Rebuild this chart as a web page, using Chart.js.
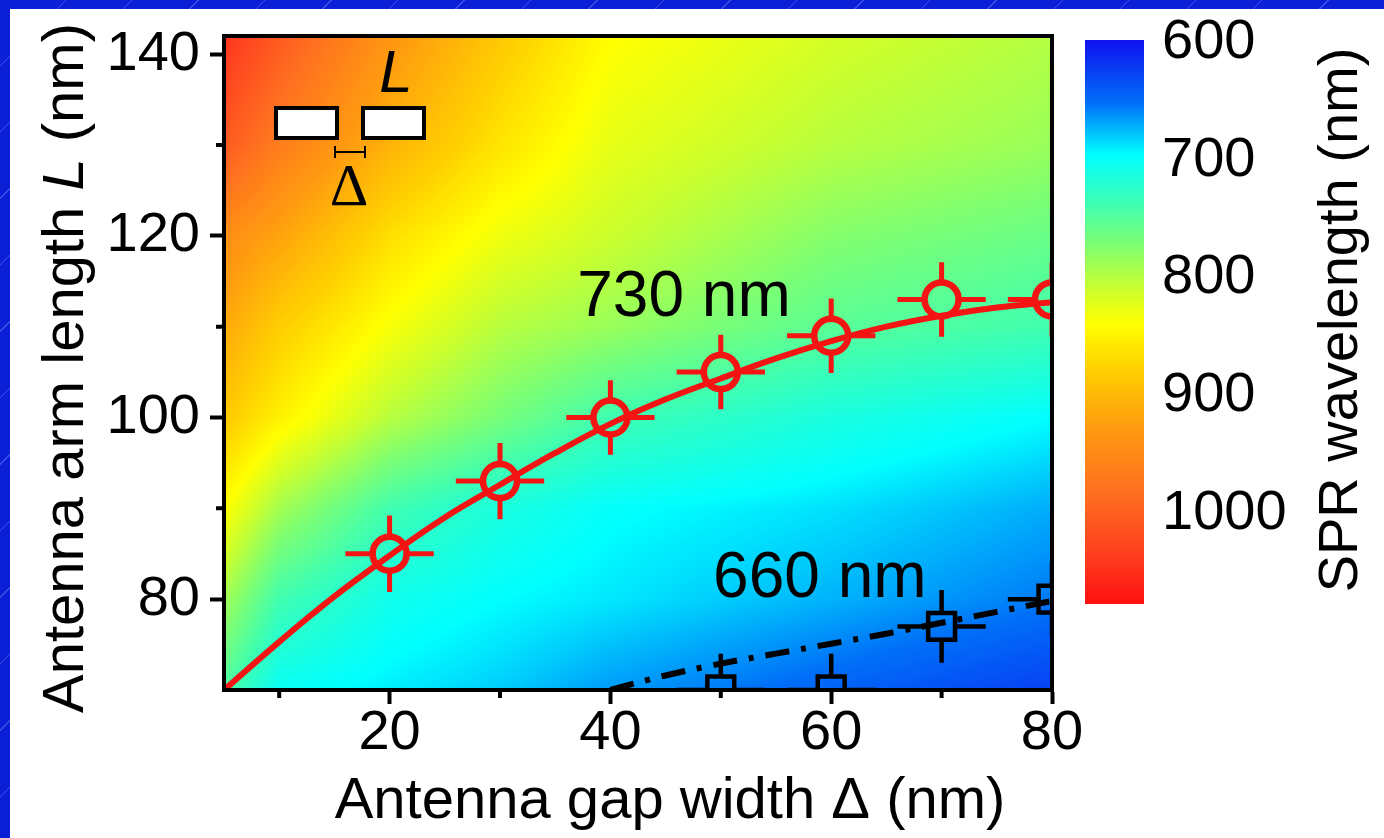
<!DOCTYPE html>
<html>
<head>
<meta charset="utf-8">
<script src="https://cdn.jsdelivr.net/npm/chart.js@4.4.1/dist/chart.umd.min.js"></script>
<style>
  html, body { margin: 0; padding: 0; }
  body {
    width: 1384px; height: 838px; overflow: hidden; position: relative;
    background: repeating-linear-gradient(135deg, #0a1fd6 0 46px, #3a52e6 46px 47px);
  }
  #panel { position: absolute; left: 10px; top: 9px; right: 0; bottom: 0; background: #fff; }
  #main { position: absolute; left: 0; top: 0; }
  #bar { position: absolute; left: 1080px; top: 0; }
</style>
</head>
<body>
<div id="panel"></div>
<canvas id="main" width="1384" height="838"></canvas>
<canvas id="bar" width="304" height="640"></canvas>
<script>
// 730 nm resonance: measured points (red circles) and the fit line
const gap730 = [20, 30, 40, 50, 60, 70, 80];
const len730 = [85, 93, 100, 105, 109, 113, 113];
const gapErr730 = [4, 4, 4, 4, 4, 4, 4];
const lenErr730 = [4.2, 4.2, 4.1, 4.1, 4.1, 4.1, 4.1];
const fitGap730 = [5, 10, 15, 20, 25, 30, 35, 40, 45, 50, 55, 60, 65, 70, 75, 80];
const fitLen730 = [70, 75.3, 80.3, 84.8, 89, 92.6, 96.1, 99.3, 102, 104.3, 106.5, 108.4, 110, 111.2, 112.1, 112.7];

// 660 nm resonance: measured points (black squares) and the fit line
const gap660 = [50, 60, 70, 80];
const len660 = [70, 70, 77, 80];
const gapErr660 = [4, 4, 4, 4];
const lenErr660 = [4, 4, 4, 4];
const fitGap660 = [40, 45, 50, 55, 60, 65, 70, 75, 80];
const fitLen660 = [70, 71.6, 72.9, 74, 75.1, 76.2, 77.4, 78.6, 79.8];

// SPR wavelength map (nm), rows follow heatLen, columns follow heatGap
const heatGap = [5, 10, 20, 30, 40, 60, 80];
const heatLen = [70, 80, 90, 100, 110, 120, 130, 142];
const heatSpr = [
  [745, 700, 690, 680, 665, 645, 625],
  [790, 738, 705, 695, 688, 672, 655],
  [840, 790, 738, 712, 697, 686, 670],
  [885, 850, 800, 768, 737, 712, 695],
  [915, 880, 835, 800, 785, 752, 738],
  [945, 920, 865, 830, 810, 775, 760],
  [1005, 965, 905, 860, 825, 800, 785],
  [1045, 1005, 935, 885, 840, 815, 798]
];

// colour scale of the colour bar
const cmapNm = [598, 652, 695, 738, 773, 808, 839, 877, 929, 981, 1033, 1077];
const cmapColor = ['#1010f0', '#0070f8', '#00ffff', '#40ffb0', '#80ff70', '#c8ff30',
  '#ffff00', '#ffd000', '#ff9a10', '#ff7020', '#ff4020', '#ff1010'];
const colorbarRange = [598, 1077];

// axis minor ticks and text labels
const minorGap = [10, 30, 50, 70];
const minorLen = [90, 110, 130];
const noteText = ['730 nm', '660 nm'];
const noteGap = [37, 49.3];
const noteLen = [111.2, 80.2];

const FONT = "'Liberation Sans', Arial, sans-serif";

function hexRgb(h) {
  return [parseInt(h.slice(1, 3), 16), parseInt(h.slice(3, 5), 16), parseInt(h.slice(5, 7), 16)];
}
const cmapRgb = cmapColor.map(hexRgb);

function sprColor(w) {
  if (w <= cmapNm[0]) return cmapRgb[0];
  for (let i = 0; i < cmapNm.length - 1; i++) {
    if (w <= cmapNm[i + 1]) {
      const t = (w - cmapNm[i]) / (cmapNm[i + 1] - cmapNm[i]);
      const a = cmapRgb[i], b = cmapRgb[i + 1];
      return [a[0] + (b[0] - a[0]) * t, a[1] + (b[1] - a[1]) * t, a[2] + (b[2] - a[2]) * t];
    }
  }
  return cmapRgb[cmapRgb.length - 1];
}

function locate(arr, v) {
  let i = 0;
  while (i < arr.length - 2 && v > arr[i + 1]) i++;
  const t = (v - arr[i]) / (arr[i + 1] - arr[i]);
  return [i, Math.max(0, Math.min(1, t))];
}

function sprAt(g, l) {
  const [i, tx] = locate(heatGap, g);
  const [j, ty] = locate(heatLen, l);
  const r0 = heatSpr[j], r1 = heatSpr[j + 1];
  const a = r0[i] * (1 - tx) + r0[i + 1] * tx;
  const b = r1[i] * (1 - tx) + r1[i + 1] * tx;
  return a * (1 - ty) + b * ty;
}

const heatmap = {
  id: 'heatmap',
  beforeDatasetsDraw(chart) {
    const {ctx, chartArea: a, scales: {x, y}} = chart;
    const w = Math.round(a.width), h = Math.round(a.height);
    if (!this.img || this.img.width !== w || this.img.height !== h) {
      const off = document.createElement('canvas');
      off.width = w; off.height = h;
      const octx = off.getContext('2d');
      const im = octx.createImageData(w, h);
      for (let j = 0; j < h; j++) {
        const l = y.getValueForPixel(a.top + j + 0.5);
        for (let i = 0; i < w; i++) {
          const g = x.getValueForPixel(a.left + i + 0.5);
          const c = sprColor(sprAt(g, l));
          const k = (j * w + i) * 4;
          im.data[k] = c[0]; im.data[k + 1] = c[1]; im.data[k + 2] = c[2]; im.data[k + 3] = 255;
        }
      }
      octx.putImageData(im, 0, 0);
      this.img = off;
    }
    ctx.drawImage(this.img, a.left, a.top);
  }
};

const errorBars = {
  id: 'errorBars',
  afterDatasetsDraw(chart) {
    const {ctx, chartArea: a, scales: {x, y}} = chart;
    ctx.save();
    ctx.beginPath();
    ctx.rect(a.left, a.top, a.width, a.height);
    ctx.clip();
    chart.data.datasets.forEach(ds => {
      if (!ds.errX) return;
      ctx.strokeStyle = ds.borderColor;
      ctx.lineWidth = ds.errWidth;
      ds.data.forEach((p, k) => {
        const px = x.getPixelForValue(p.x), py = y.getPixelForValue(p.y);
        const xl = x.getPixelForValue(p.x - ds.errX[k]), xr = x.getPixelForValue(p.x + ds.errX[k]);
        const yb = y.getPixelForValue(p.y - ds.errY[k]), yt = y.getPixelForValue(p.y + ds.errY[k]);
        const r = ds.errGap;
        ctx.beginPath();
        ctx.moveTo(xl, py); ctx.lineTo(px - r, py);
        ctx.moveTo(px + r, py); ctx.lineTo(xr, py);
        ctx.moveTo(px, yt); ctx.lineTo(px, py - r);
        ctx.moveTo(px, py + r); ctx.lineTo(px, yb);
        ctx.stroke();
      });
    });
    ctx.restore();
  }
};

const frameAndNotes = {
  id: 'frameAndNotes',
  afterDatasetsDraw(chart) {
    const {ctx, chartArea: a, scales: {x, y}} = chart;
    ctx.save();
    // box around the map
    ctx.strokeStyle = '#000';
    ctx.lineWidth = 4;
    ctx.strokeRect(a.left, a.top, a.width, a.height);
    // minor ticks
    ctx.beginPath();
    minorGap.forEach(v => {
      const px = x.getPixelForValue(v);
      ctx.moveTo(px, a.bottom); ctx.lineTo(px, a.bottom + 8);
    });
    minorLen.forEach(v => {
      const py = y.getPixelForValue(v);
      ctx.moveTo(a.left, py); ctx.lineTo(a.left - 8, py);
    });
    ctx.stroke();

    // resonance labels
    ctx.fillStyle = '#000';
    ctx.font = '64px ' + FONT;
    ctx.textAlign = 'left';
    ctx.textBaseline = 'alphabetic';
    noteText.forEach((t, i) => {
      ctx.fillText(t, x.getPixelForValue(noteGap[i]), y.getPixelForValue(noteLen[i]));
    });

    // antenna sketch in the upper left corner
    const ox = a.left, oy = a.top;
    ctx.fillStyle = '#fff';
    ctx.lineWidth = 4;
    ctx.fillRect(ox + 52, oy + 72, 61, 30);
    ctx.strokeRect(ox + 52, oy + 72, 61, 30);
    ctx.fillRect(ox + 139, oy + 72, 61, 30);
    ctx.strokeRect(ox + 139, oy + 72, 61, 30);
    ctx.lineWidth = 2;
    ctx.beginPath();
    ctx.moveTo(ox + 111, oy + 116); ctx.lineTo(ox + 141, oy + 116);
    ctx.moveTo(ox + 111, oy + 110); ctx.lineTo(ox + 111, oy + 122);
    ctx.moveTo(ox + 141, oy + 110); ctx.lineTo(ox + 141, oy + 122);
    ctx.stroke();
    ctx.fillStyle = '#000';
    ctx.textAlign = 'center';
    ctx.font = "60px 'Liberation Serif', 'Times New Roman', serif";
    ctx.fillText('\u0394', ox + 125, oy + 169);
    ctx.font = 'italic 60px ' + FONT;
    ctx.fillText('L', ox + 172, oy + 56);
    ctx.restore();
  }
};

function drawParts(ctx, parts, cx, cy, rot, size) {
  ctx.save();
  ctx.translate(cx, cy);
  ctx.rotate(rot);
  ctx.fillStyle = '#000';
  ctx.textAlign = 'left';
  ctx.textBaseline = 'alphabetic';
  const fonts = parts.map(p => (p.italic ? 'italic ' : '') + size + 'px ' + FONT);
  let total = 0;
  const widths = parts.map((p, i) => { ctx.font = fonts[i]; const w = ctx.measureText(p.text).width; total += w; return w; });
  let pos = -total / 2;
  parts.forEach((p, i) => { ctx.font = fonts[i]; ctx.fillText(p.text, pos, 0); pos += widths[i]; });
  ctx.restore();
}

const axisTitles = {
  id: 'axisTitles',
  afterDraw(chart) {
    const ctx = chart.ctx;
    drawParts(ctx, [{text: 'Antenna gap width \u0394 (nm)'}], 670, 818, 0, 58);
    drawParts(ctx, [{text: 'Antenna arm length '}, {text: 'L', italic: true}, {text: ' (nm)'}], 83, 368, -Math.PI / 2, 58);
  }
};

const tickFont = {family: FONT, size: 56, lineHeight: 1};

new Chart(document.getElementById('main'), {
  type: 'scatter',
  data: {
    datasets: [
      {
        type: 'line',
        data: fitGap730.map((g, i) => ({x: g, y: fitLen730[i]})),
        borderColor: '#f41414',
        borderWidth: 6,
        pointRadius: 0,
        tension: 0.4,
        fill: false,
        clip: 0
      },
      {
        type: 'line',
        data: fitGap660.map((g, i) => ({x: g, y: fitLen660[i]})),
        borderColor: '#000',
        borderWidth: 6,
        borderDash: [24, 12, 5, 12],
        pointRadius: 0,
        tension: 0.4,
        fill: false,
        clip: 0
      },
      {
        data: gap730.map((g, i) => ({x: g, y: len730[i]})),
        pointStyle: 'circle',
        pointRadius: 17,
        borderWidth: 6.5,
        borderColor: '#f41414',
        backgroundColor: 'rgba(0,0,0,0)',
        errX: gapErr730, errY: lenErr730, errGap: 17, errWidth: 5,
        clip: 0
      },
      {
        data: gap660.map((g, i) => ({x: g, y: len660[i]})),
        pointStyle: 'rect',
        pointRadius: 19,
        borderWidth: 4.5,
        borderColor: '#000',
        backgroundColor: 'rgba(0,0,0,0)',
        errX: gapErr660, errY: lenErr660, errGap: 13, errWidth: 4.5,
        clip: 0
      }
    ]
  },
  options: {
    responsive: false,
    animation: false,
    events: [],
    layout: {padding: {left: 0, top: 36, right: 332, bottom: 0}},
    plugins: {legend: {display: false}, tooltip: {enabled: false}},
    scales: {
      x: {
        type: 'linear', min: 5, max: 80,
        ticks: {stepSize: 20, includeBounds: false, padding: 2, color: '#000', font: tickFont, maxRotation: 0},
        grid: {drawOnChartArea: false, tickLength: 14, tickWidth: 4, tickColor: '#000'},
        border: {color: '#000', width: 4},
        afterFit(s) { s.height = 148; s.paddingLeft = 0; s.paddingRight = 0; }
      },
      y: {
        type: 'linear', min: 70, max: 142,
        ticks: {stepSize: 20, includeBounds: false, padding: 10, color: '#000', font: tickFont},
        grid: {drawOnChartArea: false, tickLength: 14, tickWidth: 4, tickColor: '#000'},
        border: {color: '#000', width: 4},
        afterFit(s) { s.width = 224; s.paddingTop = 0; s.paddingBottom = 0; }
      }
    }
  },
  plugins: [heatmap, errorBars, frameAndNotes, axisTitles]
});

const colorbarTitle = {
  id: 'colorbarTitle',
  afterDraw(chart) {
    drawParts(chart.ctx, [{text: 'SPR wavelength (nm)'}], 1357 - 1080, 320, -Math.PI / 2, 56);
  }
};

new Chart(document.getElementById('bar'), {
  type: 'bar',
  data: {
    labels: [''],
    datasets: [{
      data: [colorbarRange],
      borderWidth: 0,
      barPercentage: 1,
      categoryPercentage: 1,
      backgroundColor(c) {
        const {chartArea, scales} = c.chart;
        if (!chartArea) return null;
        const g = c.chart.ctx.createLinearGradient(0, chartArea.top, 0, chartArea.bottom);
        cmapNm.forEach((w, i) => {
          const t = (scales.y.getPixelForValue(w) - chartArea.top) / chartArea.height;
          g.addColorStop(Math.max(0, Math.min(1, t)), cmapColor[i]);
        });
        return g;
      }
    }]
  },
  options: {
    responsive: false,
    animation: false,
    events: [],
    layout: {padding: {left: 5, top: 40, right: 0, bottom: 36}},
    plugins: {legend: {display: false}, tooltip: {enabled: false}},
    scales: {
      x: {display: false},
      y: {
        position: 'right',
        min: colorbarRange[0], max: colorbarRange[1], reverse: true,
        ticks: {stepSize: 100, includeBounds: false, padding: 18, color: '#000', font: tickFont,
          callback: v => String(v)},
        grid: {display: false, drawTicks: false},
        border: {display: false},
        afterFit(s) { s.width = 240; s.paddingTop = 0; s.paddingBottom = 0; }
      }
    }
  },
  plugins: [colorbarTitle]
});
</script>
</body>
</html>
